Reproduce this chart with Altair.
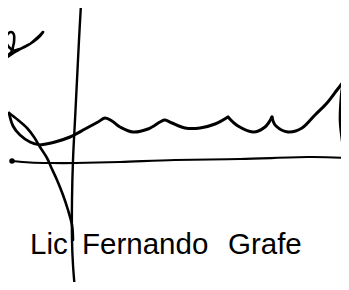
import altair as alt
import pandas as pd

# Signature strokes (pixel coordinates of the reference)
squiggle_x = [0, 6, 12, 8, 5, 7, 11, 14, 14, 13, 20, 30, 38, 43, 40, 33, 24, 15, 6, 0]
squiggle_y = [63, 57, 51, 46, 40, 35, 32, 35, 42, 50, 49, 44, 37, 32, 36, 42, 47, 52, 58, 62]

stem_x = [81, 79, 77, 75, 73, 72, 72, 73, 75]
stem_y = [4, 40, 80, 120, 160, 200, 240, 265, 290]

leaf_outer_x = [9, 13, 20, 30, 40]
leaf_outer_y = [113, 126, 135, 142, 145]

wave1_x = [40, 55, 70, 85, 98, 105, 112, 120, 133, 148, 160, 165, 172, 185, 200, 215, 228]
wave1_y = [145, 142, 137, 129, 122, 118, 121, 127, 132, 129, 122, 120, 123, 128, 128, 124, 117]

wave2_x = [228, 238, 253, 265, 272]
wave2_y = [117, 126, 132, 127, 117]

wave3_x = [272, 276, 288, 302, 315, 327, 337, 343]
wave3_y = [117, 126, 132, 128, 115, 103, 90, 82]

tail_x = [343, 341, 340, 342, 345, 348]
tail_y = [82, 97, 120, 140, 157, 173]

leaf_inner_x = [9, 18, 27, 34, 40, 47, 51, 57, 63, 68, 72, 73]
leaf_inner_y = [113, 120, 128, 137, 147, 158, 167, 180, 195, 210, 225, 240]

underline_x = [12, 30, 50, 75, 120, 175, 240, 308, 346]
underline_y = [161, 162.5, 163, 163, 162, 160, 159, 157, 158]

words = ["Lic", "Fernando", "Grafe"]
word_x = [30, 82, 228]
word_y = [254, 254, 254]

strokes = {
    "squiggle": (squiggle_x, squiggle_y, 2.6),
    "stem": (stem_x, stem_y, 2.4),
    "leaf_outer": (leaf_outer_x, leaf_outer_y, 2.8),
    "wave1": (wave1_x, wave1_y, 3.0),
    "wave2": (wave2_x, wave2_y, 3.0),
    "wave3": (wave3_x, wave3_y, 3.0),
    "tail": (tail_x, tail_y, 2.6),
    "leaf_inner": (leaf_inner_x, leaf_inner_y, 2.6),
    "underline": (underline_x, underline_y, 2.2),
}

rows = []
for name, (xs_, ys_, w) in strokes.items():
    for i, (x, y) in enumerate(zip(xs_, ys_)):
        rows.append({"stroke": name, "i": i, "x": x, "y": y})
df = pd.DataFrame(rows)

xs = alt.Scale(domain=[8, 341], nice=False, zero=False)
ys = alt.Scale(domain=[8, 282], nice=False, zero=False, reverse=True)

layers = []
for name, (sx, sy, w) in strokes.items():
    layers.append(
        alt.Chart(df[df.stroke == name]).mark_line(
            color="black", strokeWidth=w, interpolate="cardinal",
            strokeCap="round", strokeJoin="round", clip=True
        ).encode(
            x=alt.X("x:Q", scale=xs, axis=None),
            y=alt.Y("y:Q", scale=ys, axis=None),
            order="i:Q",
        )
    )

dot = alt.Chart(pd.DataFrame({"x": [underline_x[0]], "y": [underline_y[0]]})).mark_point(
    filled=True, color="black", size=30, opacity=1, clip=True
).encode(x=alt.X("x:Q", scale=xs, axis=None), y=alt.Y("y:Q", scale=ys, axis=None))

text = alt.Chart(pd.DataFrame({"t": words, "x": word_x, "y": word_y})).mark_text(
    align="left", baseline="alphabetic", fontSize=29.5, font="Liberation Sans",
    color="black"
).encode(
    x=alt.X("x:Q", scale=xs, axis=None),
    y=alt.Y("y:Q", scale=ys, axis=None),
    text="t:N",
)

chart = alt.layer(*layers, dot, text).properties(
    width=333, height=274, padding=0,
    autosize=alt.AutoSizeParams(type="none"),
    background="white",
).configure_view(stroke=None)

chart.save("out.html", embed_options={"renderer": "svg", "actions": False})
